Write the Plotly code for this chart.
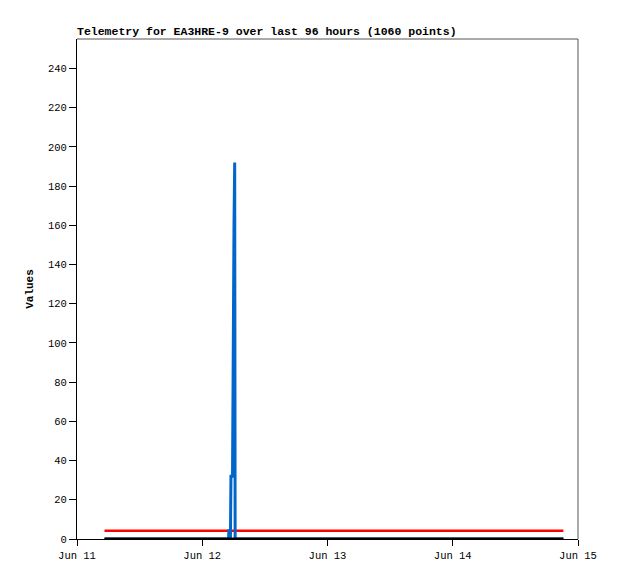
import plotly.graph_objects as go

# Blue series (spike on Jun 12)
blue_times = ["2024-06-11 05:16", "2024-06-12 05:03", "2024-06-12 05:06", "2024-06-12 05:10",
              "2024-06-12 05:24", "2024-06-12 05:30", "2024-06-12 05:48", "2024-06-12 05:54",
              "2024-06-12 06:05", "2024-06-12 06:13", "2024-06-12 06:18", "2024-06-14 21:12"]
blue_values = [0, 0, 5, 0, 0, 32, 32, 97, 160, 192, 0, 0]

# Red series (flat ~4)
red_times = ["2024-06-11 05:16", "2024-06-14 21:12"]
red_values = [4.2, 4.2]

# Black series (flat 0)
black_times = ["2024-06-11 05:16", "2024-06-14 21:12"]
black_values = [0, 0]

y_ticks = [0, 20, 40, 60, 80, 100, 120, 140, 160, 180, 200, 220, 240]
x_ticks = ["2024-06-11", "2024-06-12", "2024-06-13", "2024-06-14", "2024-06-15"]
x_tick_labels = ["Jun 11", "Jun 12", "Jun 13", "Jun 14", "Jun 15"]

W, H = 610, 571
fig = go.Figure()
fig.add_trace(go.Scatter(x=red_times, y=red_values, mode="lines",
                         line=dict(color="#ff0000", width=2.5), showlegend=False))
fig.add_trace(go.Scatter(x=blue_times, y=blue_values, mode="lines",
                         line=dict(color="#0066cc", width=3), showlegend=False))
fig.add_trace(go.Scatter(x=black_times, y=black_values, mode="lines",
                         line=dict(color="#000000", width=3), showlegend=False))

mono = "Liberation Mono"
fig.update_layout(
    width=W, height=H,
    margin=dict(l=69, r=40, t=31, b=40),
    paper_bgcolor="white", plot_bgcolor="white",
    title=dict(text="<b>Telemetry for EA3HRE-9 over last 96 hours (1060 points)</b>",
               x=69/W, xanchor="left", y=1-23/H, yanchor="middle",
               font=dict(family=mono, size=11.5, color="black")),
    font=dict(family=mono, size=10, color="black"),
    xaxis=dict(range=["2024-06-11", "2024-06-15"], tickvals=x_ticks, ticktext=x_tick_labels,
               showgrid=False, zeroline=False, showline=True, linecolor="black", linewidth=1,
               ticks="outside", ticklen=6, tickcolor="black", tickfont=dict(family=mono, size=10.5)),
    yaxis=dict(range=[0, 255], tickvals=y_ticks, showgrid=False, zeroline=False,
               showline=True, linecolor="black", linewidth=1, ticks="outside", ticklen=7,
               tickcolor="black", tickfont=dict(family=mono, size=10.5),
               title=dict(text="<b>Values</b>", font=dict(family=mono, size=11), standoff=12)),
)
# gray top/right border
fig.add_shape(type="line", xref="paper", yref="paper", x0=0, x1=1, y0=1, y1=1,
              line=dict(color="#555555", width=1))
fig.add_shape(type="line", xref="paper", yref="paper", x0=1, x1=1, y0=0, y1=1,
              line=dict(color="#555555", width=1))

fig.write_html("out.html")
